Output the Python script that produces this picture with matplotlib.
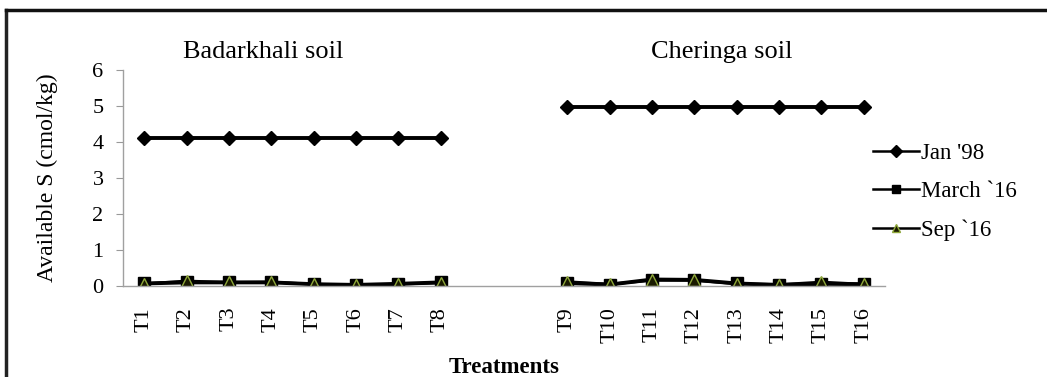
import numpy as np
import matplotlib
matplotlib.use("Agg")
import matplotlib.pyplot as plt
from matplotlib.lines import Line2D

plt.rcParams["font.family"] = ["Liberation Serif", "DejaVu Serif"]

# data
labels_left = ["T1", "T2", "T3", "T4", "T5", "T6", "T7", "T8"]
labels_right = ["T9", "T10", "T11", "T12", "T13", "T14", "T15", "T16"]
jan98_left = [4.11, 4.11, 4.11, 4.11, 4.11, 4.11, 4.11, 4.11]
jan98_right = [4.96, 4.96, 4.96, 4.96, 4.96, 4.96, 4.96, 4.96]
mar16_left = [0.07, 0.10, 0.10, 0.10, 0.05, 0.03, 0.06, 0.10]
mar16_right = [0.08, 0.04, 0.18, 0.17, 0.07, 0.03, 0.06, 0.05]
sep16_left = [0.06, 0.14, 0.10, 0.11, 0.05, 0.03, 0.05, 0.09]
sep16_right = [0.12, 0.05, 0.16, 0.16, 0.06, 0.04, 0.11, 0.05]
n_blank = 2

labels = labels_left + [""] * n_blank + labels_right
gap = [np.nan] * n_blank
jan98 = jan98_left + gap + jan98_right
mar16 = mar16_left + gap + mar16_right
sep16 = sep16_left + gap + sep16_right
x = np.arange(len(labels))

fig = plt.figure(figsize=(10.47, 3.77), dpi=100)
ax = fig.add_axes([123 / 1047, 91 / 377, 762 / 1047, 216 / 377])

ax.plot(x, jan98, color="black", lw=2.8, marker="D", ms=7, label="Jan '98")
ax.plot(x, mar16, color="black", lw=2.8, marker="s", ms=8, label="March `16")
ax.plot(x, sep16, color="black", lw=2.0, marker="^", ms=8,
        markerfacecolor="#1a1a00", markeredgecolor="#8fa83a", markeredgewidth=1.0,
        label="Sep `16")

ax.set_xlim(-0.5, len(labels) - 0.5)
ax.set_ylim(0, 6)
ax.set_yticks(range(0, 7))
ax.set_xticks(x)
ax.set_xticklabels(labels, rotation=90, fontsize=16)
ax.tick_params(axis="x", length=0, pad=15)
ax.tick_params(axis="y", length=5, color="#999999", labelsize=16, pad=9)
for s in ("top", "right"):
    ax.spines[s].set_visible(False)
for s in ("left", "bottom"):
    ax.spines[s].set_color("#a0a0a0")
    ax.spines[s].set_linewidth(1.0)

ax.set_ylabel("Available S (cmol/kg)", fontsize=17, labelpad=25)
ax.set_xlabel("Treatments", fontsize=16.5, fontweight="bold", labelpad=10)

ax.text(2.8, 6.5, "Badarkhali soil", ha="center", va="center", fontsize=19)
ax.text(13.65, 6.5, "Cheringa soil", ha="center", va="center", fontsize=19)

leg = ax.legend(loc="center left", bbox_to_anchor=(0.984, 0.436), frameon=False,
                fontsize=16.5, handlelength=2.0, handletextpad=0.1, labelspacing=0.75,
                borderaxespad=0, borderpad=0)
for h in leg.legend_handles:
    h.set_linewidth(1.8)
    h.set_markersize(6)

# outer frame (top and left edges)
fx = 6 / 1047
fy = 367 / 377
fig.add_artist(Line2D([fx, fx], [0, fy], transform=fig.transFigure, color="#222222", lw=2.5))
fig.add_artist(Line2D([fx, 1], [fy, fy], transform=fig.transFigure, color="#111111", lw=2.5))

fig.savefig("out.png", dpi=100)
